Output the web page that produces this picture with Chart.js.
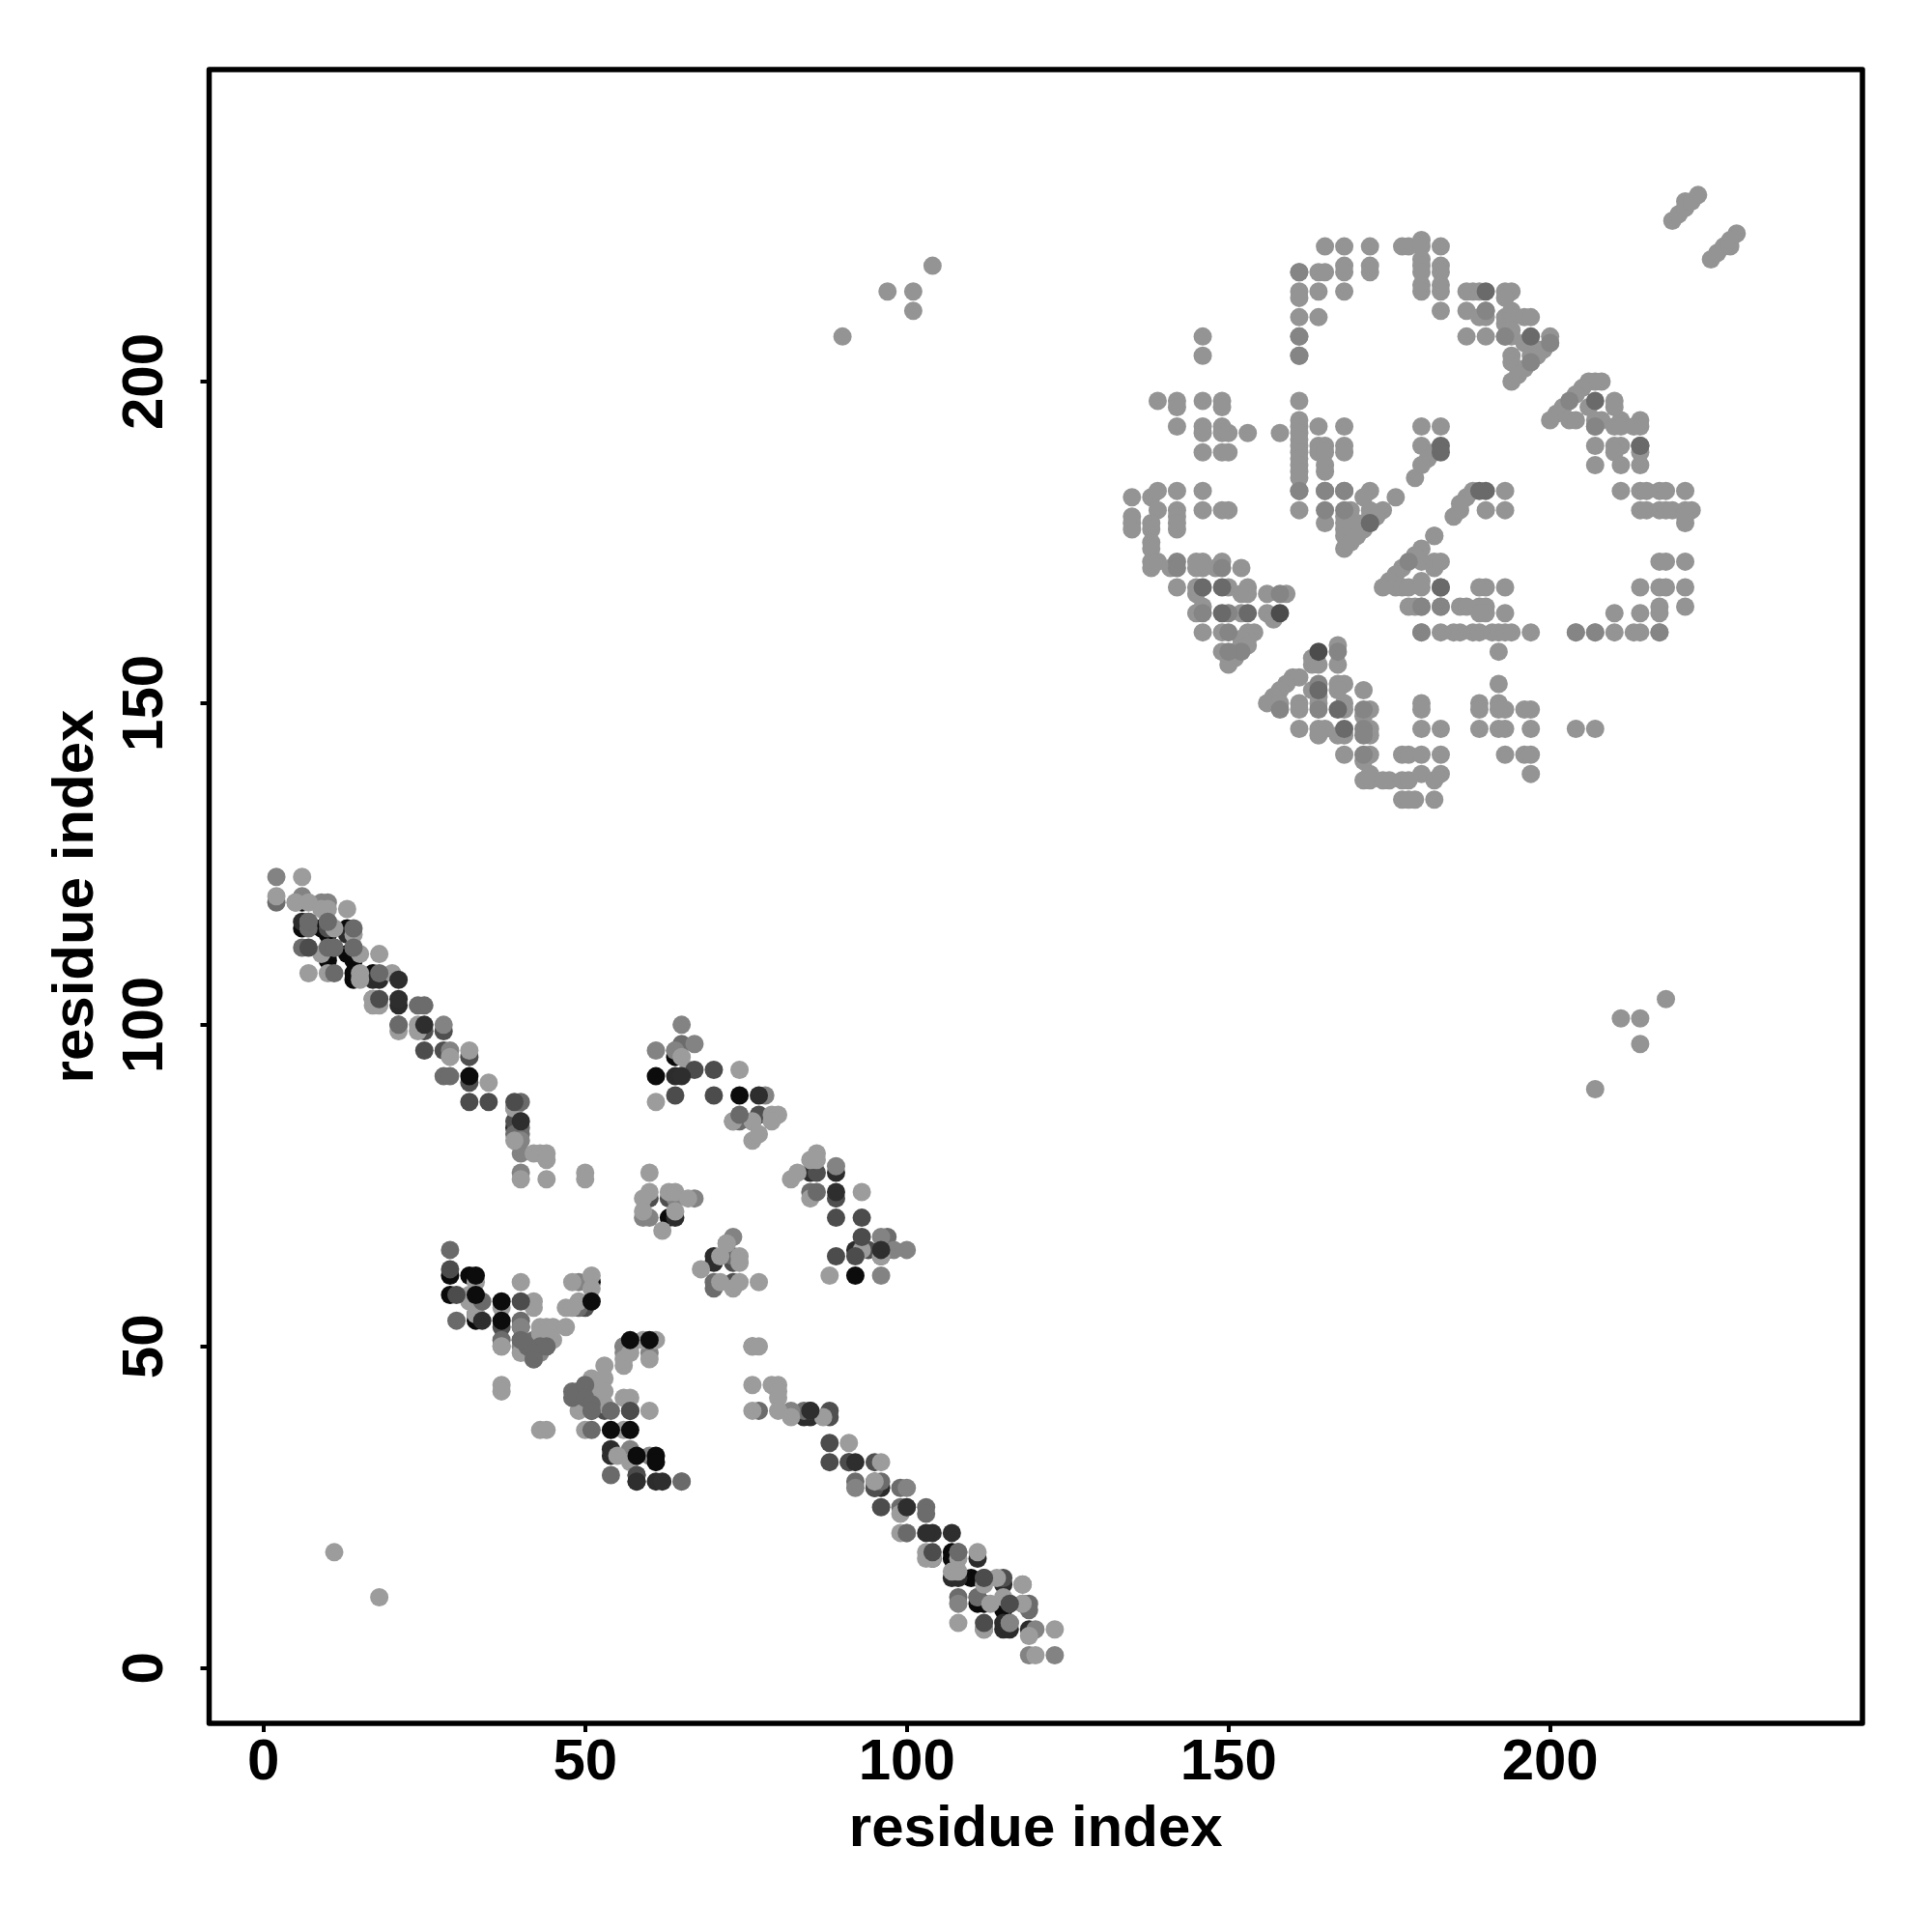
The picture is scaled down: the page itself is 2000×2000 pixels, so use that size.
<!DOCTYPE html>
<html>
<head>
<meta charset="utf-8">
<style>
  html, body { margin: 0; padding: 0; background: #fff; }
  #wrap { width: 2000px; height: 2000px; }
</style>
<script src="https://cdn.jsdelivr.net/npm/chart.js@4/dist/chart.umd.min.js"></script>
</head>
<body>
<div id="wrap"><canvas id="contactMap" width="2000" height="2000"></canvas></div>
<script>
// tick labels
const xTickValues = [0, 50, 100, 150, 200];
const yTickValues = [0, 50, 100, 150, 200];
const axisTitle = "residue index";

// contacts [i, j] grouped by grey level, back layers first
const backBlack = [[10,114],[14,110],[13,111],[10,111],[10,110],[33,57],[29,58],[32,61],[29,61],[33,54],[64,95],[63,70],[107,18],[107,17],[110,14],[111,10],[112,10],[115,9],[14,107],[14,108],[9,115],[13,115],[6,115],[6,119],[51,60],[17,108]];
const backDeep = [[6,116],[13,114],[17,107],[18,107],[21,103],[39,84],[54,34],[54,33],[58,29],[61,29],[64,92],[70,63],[70,64],[64,70],[85,77],[89,77],[84,39],[85,39],[107,14],[108,14],[115,13],[115,6],[116,6],[95,28],[96,28],[111,17],[119,6],[115,7],[104,17],[92,65],[93,65]];
const backDark = [[32,91],[32,95],[28,96],[25,99],[28,99],[39,85],[37,53],[40,53],[40,51],[33,55],[50,56],[57,40],[58,30],[73,63],[60,73],[63,73],[73,60],[76,85],[77,86],[86,77],[89,73],[85,40],[88,40],[88,39],[95,29],[95,32],[95,28],[112,14],[111,11],[116,10],[115,14],[43,50],[44,50],[42,49],[51,41],[50,42],[53,40],[51,40],[17,104],[96,64],[91,32],[94,65],[56,50],[10,112],[10,115]];
const backSlate = [[2,119],[7,115],[7,116],[6,112],[10,116],[14,112],[11,112],[21,100],[24,103],[25,103],[40,84],[39,83],[40,83],[37,51],[40,54],[41,50],[42,51],[48,43],[49,43],[50,44],[64,96],[65,97],[73,85],[74,85],[73,64],[70,60],[70,59],[85,74],[92,29],[99,25],[103,25],[103,24],[99,28],[77,40],[84,40],[108,11],[111,11],[112,6],[116,7],[118,10],[119,10],[119,9],[97,65],[97,67],[49,56],[96,29],[28,92],[29,92],[42,48],[108,18]];
const backMid = [[2,123],[9,119],[10,119],[6,120],[5,119],[39,87],[40,80],[40,77],[40,53],[41,49],[43,49],[37,50],[40,50],[56,50],[56,49],[57,50],[60,49],[49,60],[60,70],[59,70],[65,100],[61,96],[64,96],[67,97],[76,50],[82,40],[92,28],[89,78],[78,89],[96,67],[100,65],[65,29],[108,10],[116,7],[120,6],[123,2],[119,2],[118,13],[96,61],[57,34],[60,33],[72,66],[73,67],[67,73],[64,73],[98,65],[100,28],[40,82],[28,100],[29,96]];
const backLight = [[6,123],[2,120],[5,119],[7,119],[9,118],[10,118],[13,118],[11,115],[14,114],[9,111],[15,111],[18,111],[7,108],[10,108],[15,108],[15,107],[17,104],[17,103],[18,103],[20,108],[24,100],[24,99],[21,99],[29,95],[32,96],[35,91],[39,82],[39,87],[42,80],[43,80],[44,80],[44,79],[44,76],[40,76],[50,77],[50,76],[40,60],[42,57],[42,56],[43,53],[44,53],[45,53],[47,53],[44,51],[45,51],[43,52],[40,49],[37,50],[37,44],[37,43],[43,37],[44,37],[48,60],[49,57],[47,56],[48,56],[51,61],[51,59],[32,57],[32,58],[33,60],[33,55],[37,56],[50,37],[49,40],[51,45],[53,45],[53,47],[51,43],[53,43],[53,41],[56,42],[57,42],[60,40],[56,47],[56,48],[57,49],[59,51],[61,51],[60,48],[56,37],[55,33],[57,32],[61,88],[74,93],[65,95],[66,93],[73,85],[76,85],[79,86],[80,86],[79,85],[76,82],[77,83],[60,77],[60,74],[59,73],[63,74],[64,74],[66,73],[64,71],[59,71],[62,68],[72,66],[71,64],[74,64],[74,63],[68,62],[71,60],[74,60],[73,59],[77,60],[76,50],[77,50],[76,44],[79,44],[80,44],[80,43],[80,42],[76,40],[80,40],[82,39],[87,39],[91,35],[96,32],[95,29],[100,25],[82,76],[83,77],[86,80],[85,79],[86,79],[85,73],[93,74],[88,61],[93,65],[96,64],[103,18],[103,17],[104,17],[111,18],[107,15],[108,15],[108,17],[112,13],[114,14],[118,13],[113,10],[115,11],[118,10],[108,7],[112,6],[119,5],[123,6],[120,2],[99,24],[100,21],[99,21],[11,18],[18,11]];
const backGrey = [[90,207],[97,214],[101,214],[101,211],[104,218],[207,90],[214,97],[214,101],[211,101],[218,104],
  [165,221],[168,221],[172,221],[177,221],[161,217],[164,217],[165,217],[168,218],[168,217],[172,218],[172,217],[161,214],[161,213],[164,214],[168,214],[161,210],[164,210],[146,207],[161,207],[146,204],[161,204],
  [139,197],[142,197],[142,196],[146,197],[149,197],[149,196],[161,197],[142,193],[146,193],[146,192],[149,193],[149,192],[150,192],[153,192],[158,192],[161,194],[161,193],[161,192],[161,191],[161,190],[161,189],[161,188],[161,187],[161,186],[161,185],[164,193],[168,193],[146,189],[149,189],[150,189],[164,190],[165,190],[164,189],[165,189],[168,190],[168,189],[165,187],[165,186],
  [161,183],[165,183],[168,183],[172,183],[171,182],[176,182],[135,182],[138,182],[139,183],[142,183],[146,183],[135,179],[135,178],[135,177],[139,180],[138,178],[138,177],[142,180],[142,179],[142,178],[142,177],[146,180],[149,180],[150,180],[138,175],[138,174],[138,172],[138,171],[139,172],[141,171],[145,172],[146,172],[145,171],[146,171],[148,171],[149,172],[152,171],
  [142,168],[145,168],[145,167],[150,168],[152,167],[153,168],[153,167],[156,167],[159,167],[145,164],[146,165],[152,164],[156,164],[157,163],[146,161],[149,161],[153,161],[154,161],[153,160],[152,160],[152,159],[149,158],[151,158],[153,159],[150,157],[151,157],[150,156],
  [161,180],[174,180],[165,178],[168,179],[168,178],[168,177],[168,176],[168,174],[169,180],[169,177],[169,175],[170,178],[170,176],[172,180],[172,179],[173,179],[171,177],[180,193],[183,193],[180,190],[182,189],[181,188],[180,187],[179,185],[182,176],[180,174],[179,173],[177,171],[176,170],[175,169],[174,168],[176,168],[177,168],[178,168],[180,169],[180,168],[180,172],[182,172],[182,171],[183,172],[178,165],[179,165],[180,165],[183,165],[180,161],[183,161],
  [163,157],[163,156],[164,156],[167,159],[167,156],[160,154],[161,154],[159,153],[158,152],[157,151],[156,150],[158,150],[163,152],[164,151],[167,153],[168,153],[167,152],[171,152],[161,150],[168,150],[172,149],[180,150],[180,149],[161,149],[164,150],[168,149],[171,148],[161,146],[164,146],[165,146],[164,145],[167,145],[168,145],[172,146],[172,145],[168,142],[172,142],[171,141],[177,142],[178,142],[180,142],[183,142],[180,146],[183,146],
  [171,138],[172,139],[172,138],[174,138],[175,138],[177,138],[178,138],[180,139],[182,138],[183,139],[177,135],[178,135],[179,135],[182,135],[185,179],[186,180],[190,180],[193,180],[214,180],[215,180],[217,180],[218,180],[219,180],[221,180],[222,180],[221,179],[221,178],
  [182,176],[189,168],[190,168],[193,168],[217,172],[218,172],[221,172],[214,168],[217,168],[218,168],[221,168],[221,165],[217,165],[217,164],[210,164],[214,164],[186,165],[187,165],[189,165],[190,165],[189,164],[190,164],[193,164],[185,161],[186,161],[188,161],[189,161],[191,161],[192,161],[193,161],[194,161],[197,161],[204,161],[207,161],[210,161],[213,161],[214,161],[217,161],[192,158],[192,153],
  [189,150],[189,149],[192,150],[192,149],[193,149],[196,149],[197,149],[189,146],[192,146],[193,146],[197,146],[204,146],[207,146],[193,142],[196,142],[197,142],[197,139],
  [178,221],[180,222],[180,221],[183,221],[180,219],[180,218],[180,217],[180,215],[180,214],[183,218],[183,217],[183,215],[183,214],[183,211],[187,214],[188,214],[189,214],[193,214],[194,214],[193,213],[187,211],[190,211],[190,210],[189,210],[193,210],[194,211],[194,210],[196,210],[197,210],[193,209],[187,207],[190,207],[193,207],[194,208],[194,207],[200,207],[200,206],[196,206],[194,204],[194,203],[197,204],[198,205],[199,205],[197,203],[198,204],[196,202],[195,201],[194,200],
  [206,200],[207,200],[208,200],[205,199],[204,198],[202,196],[201,195],[200,194],[203,194],[204,194],[206,196],[210,197],[210,196],[207,194],[207,193],[208,194],[210,193],[211,194],[211,193],[214,194],[214,193],[213,193],[207,190],[210,190],[211,190],[210,189],[214,190],[214,189],[207,187],[211,187],[214,187],[211,183],[214,183],[215,183],[217,183],[218,183],[221,183],[187,182],[186,181],[188,183],[193,183],
  [219,225],[220,226],[221,227],[221,228],[222,228],[223,229],[225,219],[226,220],[227,221],[228,221],[228,222],[229,223]];
const backSteel = [[142,172],[142,171],[146,164],[150,164],[150,161],[149,171],[152,158],[150,158],[178,172],[164,153],[167,158],[165,180],[168,180],[172,178],[183,168],[180,165],[183,165],[180,161],[204,161],[207,161],[217,161],[190,211],[193,207],[197,203],[200,206],[203,197],[207,193],[214,190],[164,149],[171,149],[171,146],[171,145],[171,142],[158,149],[158,167],[161,183],[165,183],[168,183],[161,204],[161,207],[161,217]];
const frontSlate = [[18,108],[11,108],[29,65],[30,54],[34,57],[51,37],[54,30],[65,29],[54,40],[21,100],[14,115],[40,88],[86,74],[74,86],[108,18],[100,21],[146,168],[149,168],[149,164],[153,164],[190,214],[197,207],[207,197],[214,190],[183,190],[183,189],[190,183],[189,183],[164,152],[167,149],[168,146],[172,178],[183,168],[10,112],[11,112],[7,116],[10,116],[14,112],[49,43],[48,42],[50,44],[50,42],[51,41],[51,40],[44,50],[43,50],[42,49],[41,50],[40,51],[42,48]];
const frontDark = [[25,96],[32,88],[35,88],[18,104],[7,112],[39,88],[30,58],[40,57],[64,89],[70,93],[67,93],[70,89],[89,70],[93,70],[93,67],[89,64],[92,64],[58,30],[88,35],[88,32],[91,32],[96,25],[112,14],[116,10],[112,7],[104,18],[158,164],[164,158],[29,62],[57,40]];
const frontDeep = [[21,107],[21,104],[25,100],[40,85],[100,25],[85,40],[104,21],[107,21],[65,92],[89,74],[96,65],[62,29],[58,29],[77,89],[34,54],[92,32],[103,21]];
const frontBlack = [[33,61],[33,58],[37,57],[37,54],[51,57],[57,51],[60,51],[54,37],[57,37],[58,33],[61,33],[61,32],[61,92],[92,61],[74,89],[32,92]];

// back to front: first entry is painted first
const layers = [
  { data: backBlack, color: "#0a0a0a" },
  { data: backDeep, color: "#2c2c2c" },
  { data: backDark, color: "#4f4f4f" },
  { data: backSlate, color: "#6c6c6c" },
  { data: backMid, color: "#838383" },
  { data: backGrey, color: "#949494" },
  { data: backSteel, color: "#858585" },
  { data: backLight, color: "#9c9c9c" },
  { data: frontSlate, color: "#6a6a6a" },
  { data: frontDark, color: "#4c4c4c" },
  { data: frontDeep, color: "#2e2e2e" },
  { data: frontBlack, color: "#0c0c0c" }
];

// box round the plot area
const boxPlugin = {
  id: "box",
  afterDraw(chart) {
    const { ctx, chartArea: a } = chart;
    ctx.save();
    ctx.strokeStyle = "#000";
    ctx.lineWidth = 5.5;
    ctx.lineJoin = "round";
    ctx.strokeRect(a.left, a.top, a.right - a.left, a.bottom - a.top);
    ctx.restore();
  }
};

const fontBold = { family: "'Liberation Sans'", size: 60, weight: "bold" };

new Chart(document.getElementById("contactMap"), {
  type: "scatter",
  data: {
    datasets: layers.map((l, i) => ({
      data: l.data.map(p => ({ x: p[0], y: p[1] })),
      backgroundColor: l.color,
      pointRadius: 9.5,
      pointBorderWidth: 0,
      order: layers.length - i
    }))
  },
  plugins: [boxPlugin],
  options: {
    responsive: false,
    animation: false,
    layout: { padding: { left: 0, right: 72, top: 72, bottom: 0 } },
    plugins: { legend: { display: false }, tooltip: { enabled: false } },
    scales: {
      x: {
        type: "linear",
        min: -8.45,
        max: 248.55,
        afterFit: s => { s.height = 216; },
        afterBuildTicks: s => { s.ticks = xTickValues.map(v => ({ value: v })); },
        grid: { drawOnChartArea: false, color: "#000", lineWidth: 4, tickLength: 9 },
        border: { display: false },
        ticks: { color: "#000", font: fontBold, padding: -4, maxRotation: 0, autoSkip: false },
        title: { display: true, text: axisTitle, color: "#000", font: fontBold, padding: { top: 0, bottom: 70 } }
      },
      y: {
        type: "linear",
        min: -8.6,
        max: 248.5,
        afterFit: s => { s.width = 216.5; },
        afterBuildTicks: s => { s.ticks = yTickValues.map(v => ({ value: v })); },
        grid: { drawOnChartArea: false, color: "#000", lineWidth: 4, tickLength: 9 },
        border: { display: false },
        ticks: { color: "#000", font: fontBold, padding: 6, crossAlign: "center", minRotation: 90, maxRotation: 90, autoSkip: false },
        title: { display: true, text: axisTitle, color: "#000", font: fontBold, padding: { top: 43, bottom: 0 } }
      }
    }
  }
});
</script>
</body>
</html>
